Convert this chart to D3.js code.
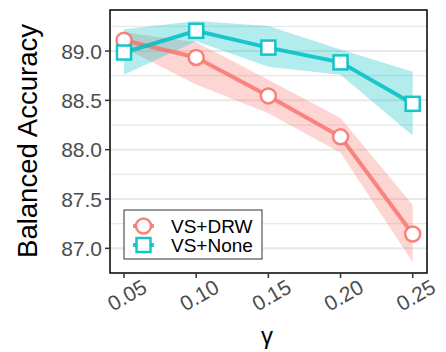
<!DOCTYPE html>
<html>
<head>
<meta charset="utf-8">
<script src="https://cdn.jsdelivr.net/npm/d3@7"></script>
<style>
  body { margin: 0; background: #fff; }
  text { font-family: "Liberation Sans", Arial, sans-serif; }
</style>
</head>
<body>
<svg id="chart" width="446" height="352"></svg>
<script>
const gammas = [0.05, 0.10, 0.15, 0.20, 0.25];
const xTicks = ['0.05', '0.10', '0.15', '0.20', '0.25'];
const yTicks = [87.0, 87.5, 88.0, 88.5, 89.0];

const drwMean = [89.11, 88.935, 88.545, 88.13, 87.145];
const drwLow = [89.03, 88.66, 88.37, 87.97, 86.86];
const drwHigh = [89.19, 89.09, 88.71, 88.32, 87.44];

const noneMean = [88.985, 89.205, 89.035, 88.885, 88.465];
const noneLow = [88.76, 89.10, 88.84, 88.76, 88.145];
const noneHigh = [89.22, 89.305, 89.255, 89.015, 88.79];

const series = [
	{ name: 'VS+DRW', color: '#F8766D', shape: 'circle', mean: drwMean, low: drwLow, high: drwHigh },
	{ name: 'VS+None', color: '#00BFC4', shape: 'square', mean: noneMean, low: noneLow, high: noneHigh },
];

const panel = { left: 110, right: 427, top: 10, bottom: 273 };
const svg = d3.select('#chart');

const x = d3.scaleLinear().domain([0.0403, 0.2599]).range([panel.left, panel.right]);
const y = d3.scaleLinear().domain([86.75, 89.416]).range([panel.bottom, panel.top]);

// horizontal grid, major and minor
const minor = d3.range(86.75, 89.5, 0.25).filter((v) => v > 86.75 && v < 89.416);
svg.append('g')
	.selectAll('line')
	.data(minor)
	.join('line')
	.attr('x1', panel.left)
	.attr('x2', panel.right)
	.attr('y1', (d) => y(d))
	.attr('y2', (d) => y(d))
	.attr('stroke', '#e8e8e8')
	.attr('stroke-width', (d) => (Math.abs(d * 2 - Math.round(d * 2)) < 1e-6 ? 2 : 1.3));

// ribbons
series.forEach((s) => {
	const area = d3.area()
		.x((d, i) => x(gammas[i]))
		.y0((d, i) => y(s.low[i]))
		.y1((d, i) => y(s.high[i]));
	svg.append('path')
		.datum(s.mean)
		.attr('d', area)
		.attr('fill', s.color)
		.attr('fill-opacity', 0.3);
});

// lines
series.forEach((s) => {
	const line = d3.line()
		.x((d, i) => x(gammas[i]))
		.y((d) => y(d));
	svg.append('path')
		.datum(s.mean)
		.attr('d', line)
		.attr('fill', 'none')
		.attr('stroke', s.color)
		.attr('stroke-opacity', 0.85)
		.attr('stroke-width', 4);
});

function drawMarker(g, s, cx, cy) {
	if (s.shape === 'circle') {
		g.append('circle')
			.attr('cx', cx)
			.attr('cy', cy)
			.attr('r', 7.5)
			.attr('fill', '#fff')
			.attr('stroke', s.color)
			.attr('stroke-opacity', 0.9)
			.attr('stroke-width', 2.5);
	} else {
		g.append('rect')
			.attr('x', cx - 7)
			.attr('y', cy - 7)
			.attr('width', 14)
			.attr('height', 14)
			.attr('fill', '#fff')
			.attr('stroke', s.color)
			.attr('stroke-opacity', 0.9)
			.attr('stroke-width', 2.5);
	}
}

// points
series.forEach((s) => {
	const g = svg.append('g');
	s.mean.forEach((v, i) => drawMarker(g, s, x(gammas[i]), y(v)));
});

// panel border
svg.append('rect')
	.attr('x', panel.left)
	.attr('y', panel.top)
	.attr('width', panel.right - panel.left)
	.attr('height', panel.bottom - panel.top)
	.attr('fill', 'none')
	.attr('stroke', '#000')
	.attr('stroke-width', 1.5);

// y axis
const yAxis = svg.append('g');
yTicks.forEach((t) => {
	yAxis.append('line')
		.attr('x1', panel.left - 5)
		.attr('x2', panel.left)
		.attr('y1', y(t))
		.attr('y2', y(t))
		.attr('stroke', '#333')
		.attr('stroke-width', 1.5);
	yAxis.append('text')
		.attr('x', panel.left - 8)
		.attr('y', y(t))
		.attr('dy', '0.36em')
		.attr('text-anchor', 'end')
		.attr('font-size', 21)
		.attr('fill', '#4d4d4d')
		.text(t.toFixed(1));
});

// x axis
const xAxis = svg.append('g');
gammas.forEach((g, i) => {
	xAxis.append('line')
		.attr('x1', x(g))
		.attr('x2', x(g))
		.attr('y1', panel.bottom)
		.attr('y2', panel.bottom + 5)
		.attr('stroke', '#333')
		.attr('stroke-width', 1.5);
	xAxis.append('text')
		.attr('transform', `translate(${x(g) + 3},${panel.bottom + 22}) rotate(-30)`)
		.attr('text-anchor', 'middle')
		.attr('dy', '0.36em')
		.attr('font-size', 21)
		.attr('fill', '#4d4d4d')
		.text(xTicks[i]);
});

// axis titles
svg.append('text')
	.attr('transform', `translate(37,141) rotate(-90)`)
	.attr('text-anchor', 'middle')
	.attr('font-size', 27.5)
	.attr('fill', '#000')
	.text('Balanced Accuracy');

svg.append('text')
	.attr('x', 267)
	.attr('y', 344)
	.attr('text-anchor', 'middle')
	.attr('font-size', 24)
	.attr('fill', '#000')
	.attr('font-family', 'DejaVu Serif, serif')
	.text('γ');

// legend
const legend = svg.append('g');
legend.append('rect')
	.attr('x', 124)
	.attr('y', 210)
	.attr('width', 138)
	.attr('height', 49)
	.attr('fill', '#fff')
	.attr('stroke', '#333')
	.attr('stroke-width', 1);
series.forEach((s, i) => {
	const cy = 226 + i * 19;
	legend.append('line')
		.attr('x1', 133)
		.attr('x2', 154)
		.attr('y1', cy)
		.attr('y2', cy)
		.attr('stroke', s.color)
		.attr('stroke-opacity', 0.85)
		.attr('stroke-width', 4);
	drawMarker(legend, s, 143.5, cy);
	legend.append('text')
		.attr('x', 171)
		.attr('y', cy)
		.attr('dy', '0.36em')
		.attr('font-size', 19)
		.attr('fill', '#000')
		.text(s.name);
});
</script>
</body>
</html>
